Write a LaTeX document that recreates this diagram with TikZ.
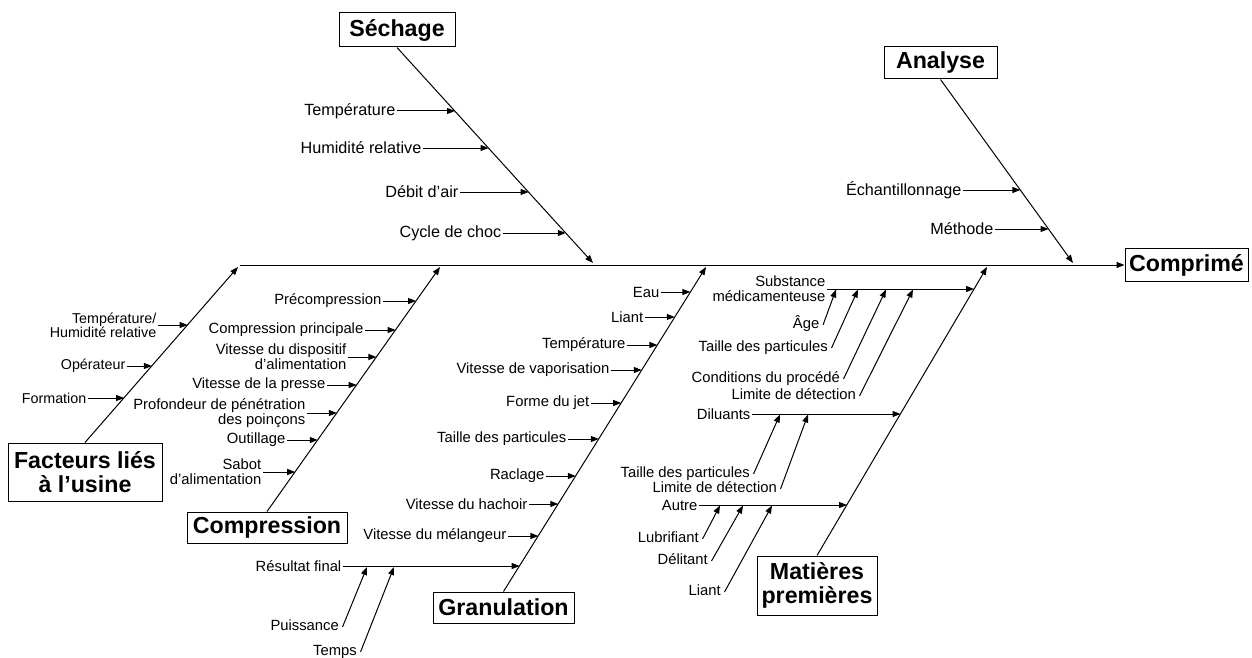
\documentclass[tikz,border=0pt]{standalone}
\usepackage{fontspec}
\setmainfont{Liberation Sans}
\usetikzlibrary{arrows.meta}
\begin{document}
\begin{tikzpicture}[x=1pt,y=-1pt,
  ln/.style={line width=1pt},
  arr/.style={ln,-{Triangle[length=8pt,width=6pt]}},
  lab/.style={font=\fontsize{14.8}{14.6}\selectfont,inner xsep=1.5pt,inner ysep=0pt,anchor=east,align=right},
  biglab/.style={lab,font=\fontsize{16.2}{16}\selectfont},
  sublab/.style={font=\fontsize{14.8}{14.6}\selectfont,inner xsep=1.5pt,inner ysep=0pt,anchor=base east},
  ttl/.style={draw,line width=1pt,font=\bfseries\fontsize{23.2}{23.5}\selectfont,align=center,inner sep=0pt},
  sstart/.style={shift={(2pt,3pt)}}]
\useasboundingbox (0,0) rectangle (1252,658);

% ---- title boxes
\node[ttl,minimum width=116pt,minimum height=34pt] (sech) at (397,30) {Séchage};
\node[ttl,minimum width=113pt,minimum height=32pt] (anal) at (940.5,63) {Analyse};
\node[ttl,minimum width=123pt,minimum height=33pt] (compr) at (1186.5,265) {Comprimé};
\node[ttl,minimum width=154pt,minimum height=58pt] (fact) at (85,472) {Facteurs liés\\à l’usine};
\node[ttl,minimum width=160pt,minimum height=31pt] (comp) at (267,527.5) {Compression};
\node[ttl,minimum width=141pt,minimum height=31pt] (gran) at (503.5,607.5) {Granulation};
\node[ttl,minimum width=120pt,minimum height=59pt] (mat) at (817,585.5) {Matières\\premières};

% ---- spine
\coordinate (sp0) at (240,265);
\draw[arr] (sp0) -- (compr.west);

% ---- bones
\coordinate (sechtip) at (593,263);
\coordinate (analtip) at (1073,263);
\coordinate (facttip) at (238,267);
\coordinate (comptip) at (440,267);
\coordinate (grantip) at (706,267);
\coordinate (mattip) at (987,267);
\draw[arr] (sech.south) -- (sechtip);
\draw[arr] (anal.south) -- (analtip);
\draw[arr] (fact.north) -- (facttip);
\draw[arr] (comp.north) -- (comptip);
\draw[arr] (gran.north) -- (grantip);
\draw[arr] (mat.north) -- (mattip);

% ---- Séchage causes
\node[biglab] (s1) at (397,111) {Température};
\node[biglab] (s2) at (423,148) {Humidité relative};
\node[biglab] (s3) at (460,192) {Débit d’air};
\node[biglab] (s4) at (503,233) {Cycle de choc};
\coordinate (s1t) at (455,111);
\coordinate (s2t) at (488.6,148);
\coordinate (s3t) at (528.6,192);
\coordinate (s4t) at (565.8,233);
\foreach \n in {s1,s2,s3,s4} \draw[arr] (\n.east) -- (\n t);

% ---- Analyse causes
\node[biglab] (a1) at (963,190) {Échantillonnage};
\node[biglab] (a2) at (995,229) {Méthode};
\coordinate (a1t) at (1020.4,190);
\coordinate (a2t) at (1048.5,229);
\foreach \n in {a1,a2} \draw[arr] (\n.east) -- (\n t);

% ---- Facteurs causes
\node[lab,font=\fontsize{14.3}{14.3}\selectfont] (f1) at (158,325) {Température/\\Humidité relative};
\node[lab,font=\fontsize{14.3}{14.3}\selectfont] (f2) at (127,366) {Opérateur};
\node[lab,font=\fontsize{14.3}{14.3}\selectfont] (f3) at (88,398) {Formation};
\coordinate (f1t) at (187.6,325);
\coordinate (f2t) at (151.9,366);
\coordinate (f3t) at (124.1,398);
\foreach \n in {f1,f2,f3} \draw[arr] (\n.east) -- (\n t);

% ---- Compression causes
\node[lab] (c1) at (383,301) {Précompression};
\node[lab] (c2) at (365,330) {Compression principale};
\node[lab] (c3) at (348,357) {Vitesse du dispositif\\d’alimentation};
\node[lab] (c4) at (327,385) {Vitesse de la presse};
\node[lab] (c5) at (307,413) {Profondeur de pénétration\\des poinçons};
\node[lab] (c6) at (287,440) {Outillage};
\node[lab] (c7) at (263,472) {Sabot\\d’alimentation};
\coordinate (c1t) at (416,301);
\coordinate (c2t) at (395.5,330);
\coordinate (c3t) at (376.4,357);
\coordinate (c4t) at (356.7,385);
\coordinate (c5t) at (336.9,413);
\coordinate (c6t) at (317.8,440);
\coordinate (c7t) at (295.2,472);
\foreach \n in {c1,c2,c3,c4,c5,c6,c7} \draw[arr] (\n.east) -- (\n t);

% ---- Granulation causes
\node[lab] (g1) at (661,292) {Eau};
\node[lab] (g2) at (645,317) {Liant};
\node[lab] (g3) at (627,345) {Température};
\node[lab] (g4) at (611,370) {Vitesse de vaporisation};
\node[lab] (g5) at (591,403) {Forme du jet};
\node[lab] (g6) at (568,439) {Taille des particules};
\node[lab] (g7) at (546,476) {Raclage};
\node[lab] (g8) at (529,504) {Vitesse du hachoir};
\node[lab] (g9) at (508,536) {Vitesse du mélangeur};
\node[lab] (g10) at (343,566) {Résultat final};
\coordinate (g1t) at (690.4,292);
\coordinate (g2t) at (674.8,317);
\coordinate (g3t) at (657.4,345);
\coordinate (g4t) at (641.8,370);
\coordinate (g5t) at (621.2,403);
\coordinate (g6t) at (598.8,439);
\coordinate (g7t) at (575.8,476);
\coordinate (g8t) at (558.3,504);
\coordinate (g9t) at (538.4,536);
\coordinate (g10t) at (519.7,566);
\foreach \n in {g1,g2,g3,g4,g5,g6,g7,g8,g9,g10} \draw[arr] (\n.east) -- (\n t);
\node[sublab] (puis) at (340.5,630) {Puissance};
\node[sublab] (temps) at (358.5,655) {Temps};
\coordinate (puist) at (367,567);
\coordinate (tempst) at (394,567);
\draw[arr] ([sstart]puis.base east) -- (puist);
\draw[arr] ([sstart]temps.base east) -- (tempst);

% ---- Matières premières causes
\node[lab] (m1) at (827,289) {Substance\\médicamenteuse};
\node[lab] (m2) at (752,414) {Diluants};
\node[lab] (m3) at (699,505) {Autre};
\coordinate (m1t) at (974,289);
\coordinate (m2t) at (900.5,414);
\coordinate (m3t) at (847,505);
\foreach \n in {m1,m2,m3} \draw[arr] (\n.east) -- (\n t);

\node[sublab] (age) at (821,328) {Âge};
\node[sublab] (tp1) at (829.5,351) {Taille des particules};
\node[sublab] (cond) at (841.5,382) {Conditions du procédé};
\node[sublab] (lim1) at (857.5,399) {Limite de détection};
\coordinate (aget) at (836,289.5);
\coordinate (tp1t) at (858,289.5);
\coordinate (condt) at (886,289.5);
\coordinate (lim1t) at (913,289.5);
\foreach \n in {age,tp1,cond,lim1} \draw[arr] ([sstart]\n.base east) -- (\n t);

\node[sublab] (tp2) at (751.5,477) {Taille des particules};
\node[sublab] (lim2) at (778.5,492) {Limite de détection};
\coordinate (tp2t) at (780,414.5);
\coordinate (lim2t) at (808,414.5);
\foreach \n in {tp2,lim2} \draw[arr] ([sstart]\n.base east) -- (\n t);

\node[sublab] (lub) at (700.5,542) {Lubrifiant};
\node[sublab] (del) at (709.5,564) {Délitant};
\node[sublab] (lia) at (722.5,595) {Liant};
\coordinate (lubt) at (720,505.5);
\coordinate (delt) at (743,505.5);
\coordinate (liat) at (772,505.5);
\foreach \n in {lub,del,lia} \draw[arr] ([sstart]\n.base east) -- (\n t);
\end{tikzpicture}
\end{document}
